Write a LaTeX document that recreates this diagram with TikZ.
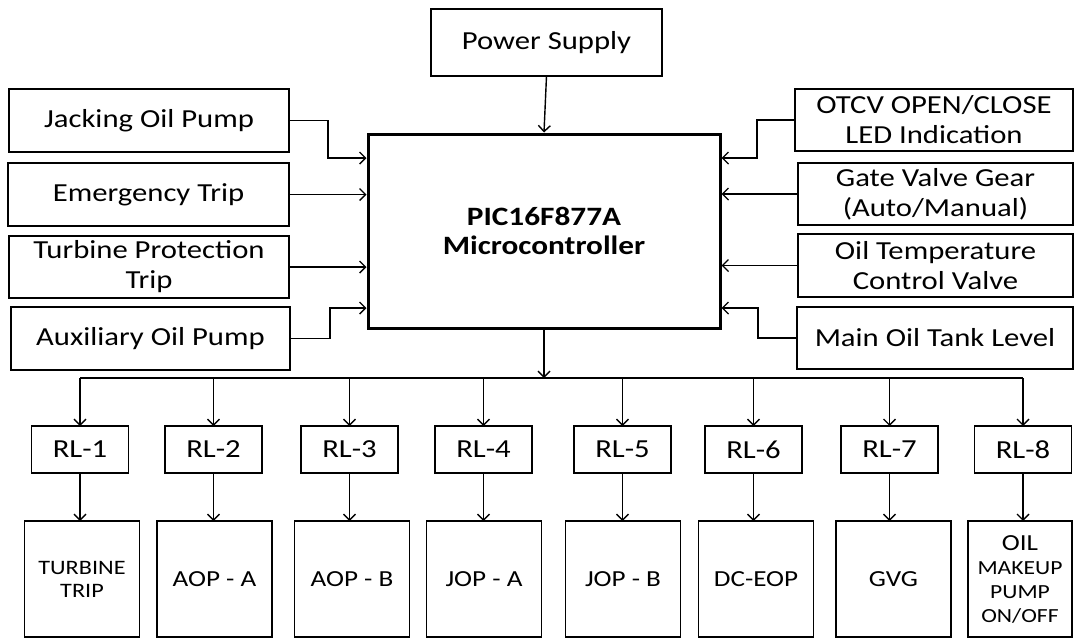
\documentclass[tikz,border=0pt]{standalone}
\usepackage{fontspec}
\setmainfont{Carlito}[FakeStretch=1.18]
\usetikzlibrary{arrows.meta}
\begin{document}
\begin{tikzpicture}[x=1pt,y=-1pt,
  box/.style={draw, line width=1.6pt, align=center, inner sep=0pt, outer sep=0pt},
  big/.style={font=\fontsize{26}{30}\selectfont},
  rl/.style={box, minimum width=97pt, minimum height=47pt, font=\fontsize{26}{28}\selectfont},
  outb/.style={box, minimum width=115pt, minimum height=116pt, font=\fontsize{23}{24}\selectfont},
  arr/.style={line width=1.4pt, -{Straight Barb[length=6pt,width=12pt,line width=1.4pt]}}]
\useasboundingbox (0,0) rectangle (1074,638);
% top
\node[box, big, minimum width=231pt, minimum height=67pt] (ps) at (546.5,42.5) {Power Supply};
\node[draw, line width=3pt, align=center, inner sep=0pt, minimum width=352pt, minimum height=194pt,
      font=\bfseries\fontsize{26.5}{29}\selectfont] (micro) at (544,231) {PIC16F877A\\Microcontroller};
% left inputs
\node[box, big, minimum width=280pt, minimum height=63pt] (jack) at (149,120.5) {Jacking Oil Pump};
\node[box, big, minimum width=281pt, minimum height=63pt] (emerg) at (148.5,194.5) {Emergency Trip};
\node[box, big, minimum width=280pt, minimum height=62pt] (turb) at (149,267) {Turbine Protection\\Trip};
\node[box, big, minimum width=279pt, minimum height=63pt] (aux) at (150.5,338.5) {Auxiliary Oil Pump};
% right inputs
\node[box, big, minimum width=278pt, minimum height=62pt] (otcv) at (934,120) {OTCV OPEN/CLOSE\\LED Indication};
\node[box, big, minimum width=275pt, minimum height=62pt] (gate) at (935.5,194) {Gate Valve Gear\\(Auto/Manual)};
\node[box, big, minimum width=275pt, minimum height=63pt] (otemp) at (935.5,265.5) {Oil Temperature\\Control Valve};
\node[box, big, minimum width=276pt, minimum height=62pt] (moil) at (935,338) {Main Oil Tank Level};
% entry points on the microcontroller
\coordinate (mL1) at (micro.west |- 0,158);
\coordinate (mL4) at (micro.west |- 0,308);
\coordinate (mR1) at (micro.east |- 0,158);
\coordinate (mR4) at (micro.east |- 0,308);
% connectors into micro
\draw[arr] (ps.south) -- (micro.north);
\draw[arr] (jack.east) -| (328,158) -- (mL1);
\draw[arr] (emerg.east) -- (emerg.east -| micro.west);
\draw[arr] (turb.east) -- (turb.east -| micro.west);
\draw[arr] (aux.east) -| (330,308) -- (mL4);
\draw[arr] (otcv.west) -| (757,158) -- (mR1);
\draw[arr] (gate.west) -- (gate.west -| micro.east);
\draw[arr] (otemp.west) -- (otemp.west -| micro.east);
\draw[arr] (moil.west) -| (758,308) -- (mR4);
% relays
\foreach \i/\x in {1/80,2/213.5,3/349.5,4/483.5,5/622.5,6/753.5,7/889.5,8/1023}
  \node[rl] (rl\i) at (\x,449.5) {RL-\i};
% outputs
\node[outb, font=\fontsize{20.5}{23}\selectfont] (o1) at (82,579) {TURBINE\\TRIP};
\node[outb] (o2) at (214.5,579) {AOP - A};
\node[outb] (o3) at (352,579) {AOP - B};
\node[outb] (o4) at (484,579) {JOP - A};
\node[outb] (o5) at (623,579) {JOP - B};
\node[outb] (o6) at (756,579) {DC-EOP};
\node[outb] (o7) at (893.5,579) {GVG};
\node[outb, minimum width=104pt] (o8) at (1020,579) {{\fontsize{23}{24}\selectfont OIL}\\{\fontsize{20}{23}\selectfont MAKEUP}\\{\fontsize{20}{23}\selectfont PUMP}\\{\fontsize{20}{23}\selectfont ON/OFF}};
% bus
\coordinate (bus) at (micro.south |- 0,378);
\coordinate (busL) at (rl1.north |- 0,378);
\coordinate (busR) at (rl8.north |- 0,378);
\draw[arr] (micro.south) -- (bus);
\draw[line width=1.4pt] (busL) -- (busR);
\foreach \i in {1,...,8} {
  \draw[arr] (rl\i.north |- bus) -- (rl\i.north);
  \draw[arr] (rl\i.south) -- (rl\i.south |- o\i.north);
}
\end{tikzpicture}
\end{document}
